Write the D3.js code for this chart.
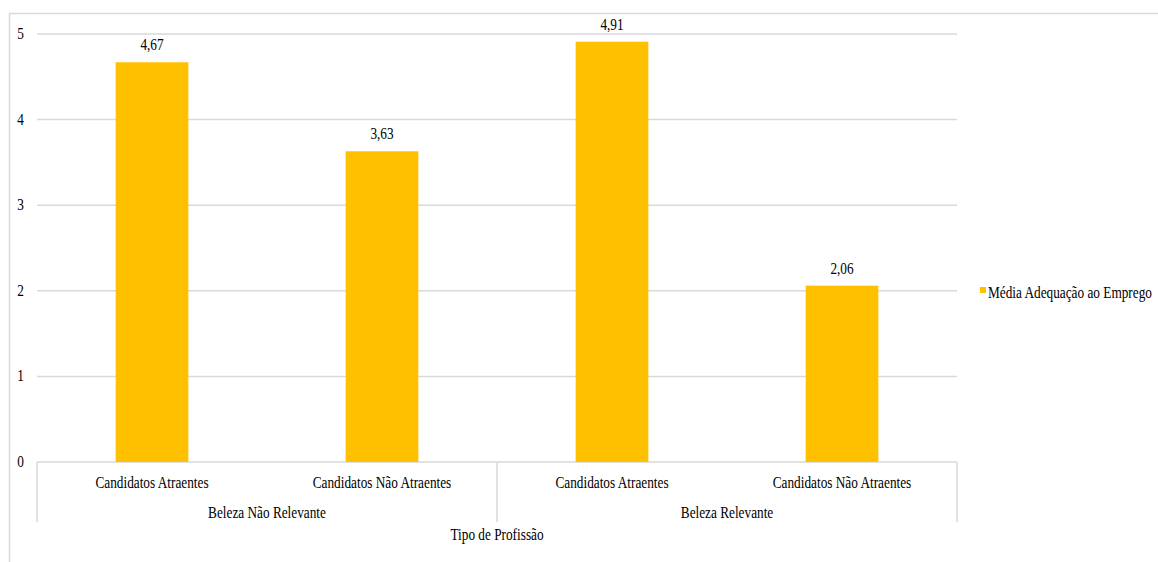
<!DOCTYPE html>
<html><head><meta charset="utf-8">
<script src="https://cdn.jsdelivr.net/npm/d3@7"></script>
<style>body{margin:0;background:#fff}svg{display:block}text{font-family:"Liberation Serif","Times New Roman",serif;fill:#000}</style>
</head><body>
<script>
const groups = ["Beleza Não Relevante", "Beleza Relevante"];
const categories = ["Candidatos Atraentes", "Candidatos Não Atraentes", "Candidatos Atraentes", "Candidatos Não Atraentes"];
const values = [4.67, 3.63, 4.91, 2.06];
const yTicks = [0, 1, 2, 3, 4, 5];
const seriesName = "Média Adequação ao Emprego";
const axisTitle = "Tipo de Profissão";

(function () {
const W = 1158, H = 562;
const svg = d3.select("body").append("svg").attr("width", W).attr("height", H);
const gridColor = "#d9d9d9", barColor = "#ffc000";
const FS = "16px";

// outer chart border
svg.append("rect").attr("x", 9.5).attr("y", 13.5).attr("width", 1160).attr("height", 560)
  .attr("fill", "none").attr("stroke", gridColor).attr("stroke-width", 1.5);

const pLeft = 37, pRight = 957, pTop = 34, pBottom = 462;
const x = d3.scaleBand().domain(d3.range(categories.length)).range([pLeft, pRight]).paddingInner(0.684).paddingOuter(0.342);
const y = d3.scaleLinear().domain([0, 5]).range([pBottom, pTop]);

// gridlines
svg.append("g").selectAll("line").data(yTicks).join("line")
  .attr("x1", pLeft).attr("x2", pRight).attr("y1", d => y(d)).attr("y2", d => y(d))
  .attr("stroke", gridColor).attr("stroke-width", 1.5);

// y labels
svg.append("g").selectAll("text").data(yTicks).join("text")
  .attr("x", 24).attr("y", d => y(d) + 5).attr("text-anchor", "end")
  .style("font-size", FS).text(d => d);

// bars
svg.append("g").selectAll("rect").data(values).join("rect")
  .attr("x", (d, i) => x(i)).attr("width", x.bandwidth())
  .attr("y", d => y(d)).attr("height", d => pBottom - y(d)).attr("fill", barColor);

// value labels
const fmt = d => d3.format(".2f")(d).replace(".", ",");
svg.append("g").selectAll("text").data(values).join("text")
  .attr("x", (d, i) => x(i) + x.bandwidth() / 2).attr("y", d => y(d) - 12)
  .attr("text-anchor", "middle").style("font-size", FS).text(fmt);

// category axis separators
const step = (pRight - pLeft) / categories.length;
const seps = [pLeft, pLeft + step * 2, pRight];
svg.append("g").selectAll("line").data(seps).join("line")
  .attr("x1", d => d).attr("x2", d => d).attr("y1", pBottom).attr("y2", 522)
  .attr("stroke", gridColor).attr("stroke-width", 1.5);

// category labels
svg.append("g").selectAll("text").data(categories).join("text")
  .attr("x", (d, i) => x(i) + x.bandwidth() / 2).attr("y", 488)
  .attr("text-anchor", "middle").style("font-size", FS).text(d => d);

// group labels
svg.append("g").selectAll("text").data(groups).join("text")
  .attr("x", (d, i) => pLeft + step * (2 * i + 1)).attr("y", 518)
  .attr("text-anchor", "middle").style("font-size", FS).text(d => d);

// axis title
svg.append("text").attr("x", (pLeft + pRight) / 2).attr("y", 540)
  .attr("text-anchor", "middle").style("font-size", FS).text(axisTitle);

// legend
const lg = svg.append("g").attr("transform", "translate(980,287)");
lg.append("rect").attr("width", 6).attr("height", 6).attr("fill", barColor);
lg.append("text").attr("x", 8).attr("y", 11).style("font-size", FS).text(seriesName);

// condense text horizontally (narrow Times look) via a scale transform
svg.selectAll("text").each(function () {
  const t = d3.select(this);
  const tx = +t.attr("x"), ty = +t.attr("y");
  t.attr("x", 0).attr("y", 0).attr("transform", `translate(${tx},${ty}) scale(0.83,1)`);
});
})();
</script>
</body></html>
